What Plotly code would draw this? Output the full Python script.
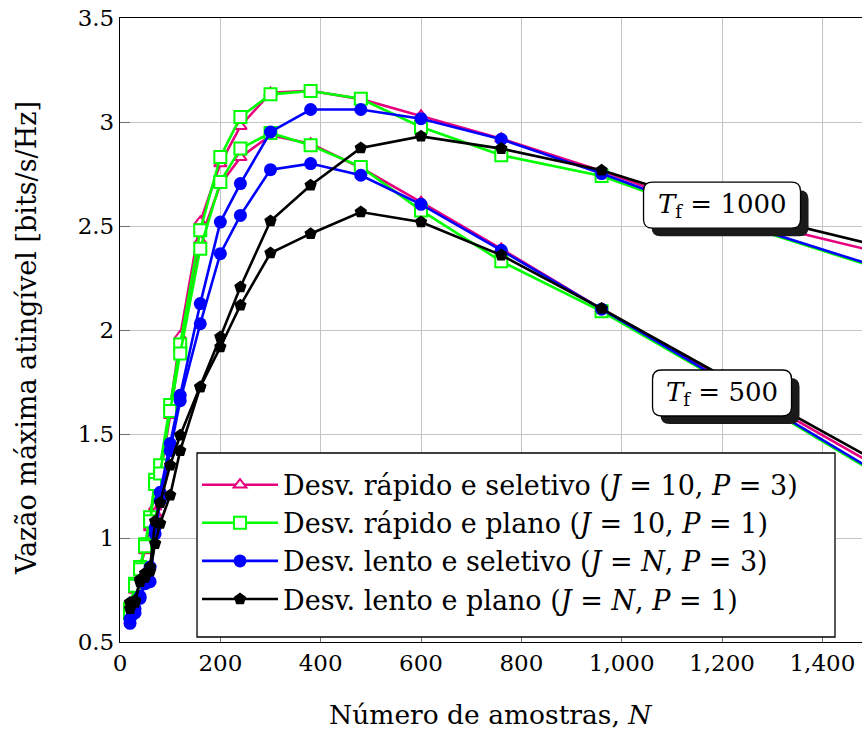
import plotly.graph_objects as go

# Número de amostras N
N = [20, 30, 40, 50, 60, 70, 80, 100, 120, 160, 200, 240, 300, 380, 480, 600, 760, 960, 1200, 1500]

# Desv. rápido e seletivo (J = 10, P = 3)
fast_sel_1000 = [0.66, 0.77, 0.86, 0.95, 1.06, 1.15, 1.33, 1.62, 1.97, 2.52, 2.80, 2.98, 3.14, 3.15, 3.11, 3.03, 2.92, 2.765, 2.555, 2.381]
fast_sel_500 = [0.65, 0.75, 0.84, 0.94, 1.05, 1.12, 1.30, 1.59, 1.92, 2.43, 2.70, 2.83, 2.936, 2.896, 2.78, 2.615, 2.39, 2.10, 1.77, 1.357]

# Desv. rápido e plano (J = 10, P = 1)
fast_flat_1000 = [0.66, 0.78, 0.86, 0.97, 1.10, 1.28, 1.35, 1.64, 1.93, 2.48, 2.832, 3.024, 3.133, 3.149, 3.112, 2.976, 2.84, 2.74, 2.535, 2.305]
fast_flat_500 = [0.64, 0.77, 0.85, 0.96, 1.08, 1.26, 1.31, 1.61, 1.887, 2.391, 2.712, 2.872, 2.947, 2.888, 2.784, 2.575, 2.33, 2.09, 1.755, 1.32]

# Desv. lento e seletivo (J = N, P = 3)
slow_sel_1000 = [0.61, 0.66, 0.72, 0.80, 0.86, 1.05, 1.22, 1.454, 1.686, 2.127, 2.519, 2.704, 2.952, 3.06, 3.06, 3.016, 2.917, 2.752, 2.54, 2.311]
slow_sel_500 = [0.59, 0.64, 0.71, 0.78, 0.79, 1.02, 1.18, 1.42, 1.66, 2.03, 2.367, 2.551, 2.771, 2.80, 2.744, 2.604, 2.383, 2.10, 1.76, 1.328]

# Desv. lento e plano (J = N, P = 1)
slow_flat_1000 = [0.69, 0.70, 0.80, 0.83, 0.86, 1.08, 1.17, 1.35, 1.494, 1.726, 1.966, 2.207, 2.524, 2.696, 2.875, 2.931, 2.872, 2.768, 2.587, 2.411]
slow_flat_500 = [0.66, 0.69, 0.79, 0.81, 0.84, 0.973, 1.07, 1.205, 1.42, 1.726, 1.918, 2.119, 2.37, 2.463, 2.567, 2.519, 2.36, 2.103, 1.78, 1.379]

x_ticks = [0, 200, 400, 600, 800, 1000, 1200, 1400]
y_ticks = [0.5, 1, 1.5, 2, 2.5, 3, 3.5]
y_tick_text = ["0.5", "1", "1.5", "2", "2.5", "3", "3.5"]

# Frame labels
box_labels = ["<i>T</i><sub>f</sub> = 1000", "<i>T</i><sub>f</sub> = 500"]
box_x = [1200, 1200]
box_y = [2.60, 1.697]

FONT = "DejaVu Serif"
PINK = "#e6007e"
GREEN = "#00ff00"
BLUE = "#0000ff"
BLACK = "#000000"

series = [
    ("Desv. rápido e seletivo (<i>J</i> = 10, <i>P</i> = 3)", PINK, "triangle-up", "white", 11,
     fast_sel_1000, fast_sel_500),
    ("Desv. rápido e plano (<i>J</i> = 10, <i>P</i> = 1)", GREEN, "square", "white", 12,
     fast_flat_1000, fast_flat_500),
    ("Desv. lento e seletivo (<i>J</i> = <i>N</i>, <i>P</i> = 3)", BLUE, "circle", BLUE, 13,
     slow_sel_1000, slow_sel_500),
    ("Desv. lento e plano (<i>J</i> = <i>N</i>, <i>P</i> = 1)", BLACK, "pentagon", BLACK, 13,
     slow_flat_1000, slow_flat_500),
]

fig = go.Figure()
for i, (name, color, symbol, fill, size, y1000, y500) in enumerate(series):
    for k, ys in enumerate([y1000, y500]):
        fig.add_trace(go.Scatter(
            x=N, y=ys, mode="lines+markers", name=name,
            legendgroup=f"g{i}", showlegend=(k == 0),
            line=dict(color=color, width=2.6),
            marker=dict(symbol=symbol, size=size, color=fill,
                        line=dict(color=color, width=2 if fill == "white" else 0)),
        ))

# Rounded label frames with a drop shadow, sized in pixels
def rounded_path(w, h, r, dx=0, dy=0):
    x0, x1 = -w / 2 + dx, w / 2 + dx
    y0, y1 = -h / 2 + dy, h / 2 + dy
    return (f"M {x0 + r},{y0} L {x1 - r},{y0} Q {x1},{y0} {x1},{y0 + r} "
            f"L {x1},{y1 - r} Q {x1},{y1} {x1 - r},{y1} L {x0 + r},{y1} "
            f"Q {x0},{y1} {x0},{y1 - r} L {x0},{y0 + r} Q {x0},{y0} {x0 + r},{y0} Z")

box_w = [157, 139]
box_h = [46, 46]
shapes = []
annotations = []
for lbl, bx, by, w, h in zip(box_labels, box_x, box_y, box_w, box_h):
    shapes.append(dict(type="path", xref="x", yref="y", xsizemode="pixel", ysizemode="pixel",
                       xanchor=bx, yanchor=by, path=rounded_path(w, h, 9, 8, -8),
                       fillcolor="#1a1a1a", line=dict(width=0), layer="above"))
    shapes.append(dict(type="path", xref="x", yref="y", xsizemode="pixel", ysizemode="pixel",
                       xanchor=bx, yanchor=by, path=rounded_path(w, h, 9),
                       fillcolor="white", line=dict(color="black", width=1.3), layer="above"))
    annotations.append(dict(x=bx, y=by, xref="x", yref="y", text=lbl, showarrow=False,
                            font=dict(family=FONT, size=26, color="black"),
                            xanchor="center", yanchor="middle"))

# Legend frame (white panel with black border behind the legend entries)
shapes.append(dict(type="rect", xref="paper", yref="paper",
                   x0=0.1038, x1=0.9636, y0=0.008, y1=0.3029,
                   fillcolor="white", line=dict(color="black", width=1.3), layer="above"))

annotations.append(dict(text="Vazão máxima atingível [bits/s/Hz]", xref="paper", yref="paper",
                        x=0, y=0.5, xshift=-94, yshift=-8, textangle=-90, showarrow=False,
                        font=dict(family=FONT, size=27, color="black"),
                        xanchor="center", yanchor="middle"))
annotations.append(dict(text="Número de amostras, <i>N</i>", xref="paper", yref="paper",
                        x=0.4987, y=0, yshift=-72, showarrow=False,
                        font=dict(family=FONT, size=26.5, color="black"),
                        xanchor="center", yanchor="middle"))

fig.update_layout(
    width=862, height=729,
    margin=dict(l=120, r=0, t=18, b=87),
    paper_bgcolor="white", plot_bgcolor="white",
    font=dict(family=FONT, size=23, color="black"),
    shapes=shapes, annotations=annotations,
    legend=dict(x=0.1038, y=0.160, xanchor="left", yanchor="middle",
                bgcolor="rgba(0,0,0,0)", borderwidth=0,
                font=dict(family=FONT, size=27), itemwidth=76,
                tracegroupgap=0),
    xaxis=dict(range=[0, 1479], tickvals=x_ticks, tickformat=",",
               showgrid=True, gridcolor="#c4c4c4", gridwidth=1.3,
               showline=True, linecolor="black", linewidth=1.3, mirror=True,
               ticks="inside", ticklen=10, tickcolor="#707070", tickwidth=1.3,
               zeroline=False, tickfont=dict(family=FONT, size=23)),
    yaxis=dict(range=[0.5, 3.5], tickvals=y_ticks, ticktext=y_tick_text,
               showgrid=True, gridcolor="#c4c4c4", gridwidth=1.3,
               showline=True, linecolor="black", linewidth=1.3, mirror=False,
               ticks="inside", ticklen=10, tickcolor="#707070", tickwidth=1.3,
               zeroline=False, tickfont=dict(family=FONT, size=23)),
)

fig.write_html("out.html")
